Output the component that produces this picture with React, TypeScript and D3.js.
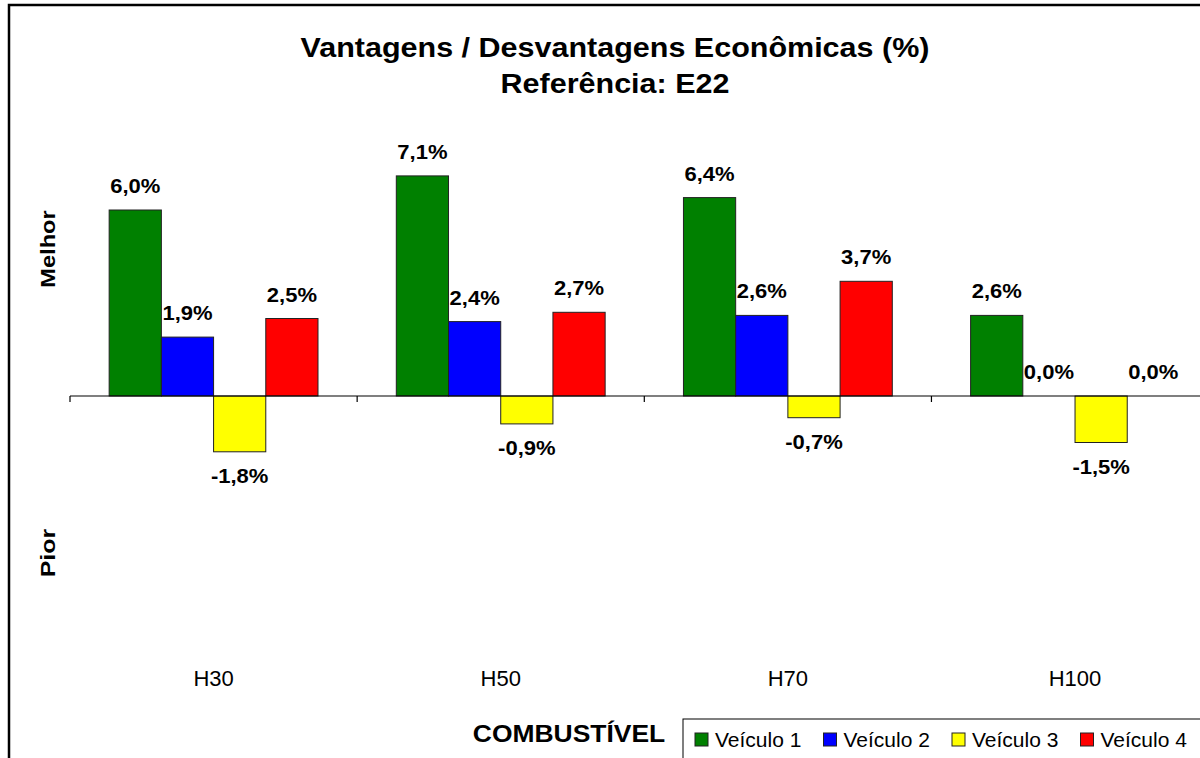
import React from "react";
import * as d3 from "d3";

const categories = ["H30", "H50", "H70", "H100"];
const seriesNames = ["Veículo 1", "Veículo 2", "Veículo 3", "Veículo 4"];
const seriesColors = ["#008000", "#0000ff", "#ffff00", "#ff0000"];
const veiculo1 = [6.0, 7.1, 6.4, 2.6];
const veiculo2 = [1.9, 2.4, 2.6, 0.0];
const veiculo3 = [-1.8, -0.9, -0.7, -1.5];
const veiculo4 = [2.5, 2.7, 3.7, 0.0];
const seriesValues = [veiculo1, veiculo2, veiculo3, veiculo4];

const FONT = "'Liberation Sans', Arial, sans-serif";

// texto alargado na horizontal (a fonte do Excel sai mais larga)
function WideText({ x, y, sx = 1, rotate = 0, children, ...rest }: any) {
  return (
    <text
      transform={`translate(${x},${y}) rotate(${rotate}) scale(${sx},1)`}
      textAnchor="middle"
      {...rest}
    >
      {children}
    </text>
  );
}

export default function App() {
  const width = 1200;
  const height = 758;

  // eixo de categorias: cada grupo ~287px
  const band = 287.15;
  const x0 = d3
    .scaleBand()
    .domain(categories)
    .range([70, 70 + band * categories.length])
    .padding(0);
  const barW = x0.bandwidth() / 5.5;
  const x1 = d3
    .scaleBand()
    .domain(seriesNames)
    .range([barW * 0.75, barW * 4.75])
    .padding(0);

  const y = d3.scaleLinear().domain([-8, 8]).range([644, 148]);
  const zero = y(0);

  const fmt = (v: number) => v.toFixed(1).replace(".", ",") + "%";

  const ticks = categories.map((c) => x0(c) as number);

  return (
    <div style={{ position: "absolute", left: 0, top: 0 }}>
      <svg width={width} height={height} style={{ display: "block", fontFamily: FONT }}>
        <rect x={0} y={0} width={width} height={height} fill="#fff" />
        {/* borda do gráfico */}
        <rect x={9} y={5} width={1300} height={900} fill="none" stroke="#000" strokeWidth={2.5} />

        {/* título */}
        <WideText x={615} y={57} sx={1.09} fontSize={28} fontWeight="bold">
          Vantagens / Desvantagens Econômicas (%)
        </WideText>
        <WideText x={615} y={93} sx={1.09} fontSize={28} fontWeight="bold">
          Referência: E22
        </WideText>

        {/* barras */}
        {seriesValues.map((vals, si) =>
          vals.map((v, ci) => {
            const bx = (x0(categories[ci]) as number) + (x1(seriesNames[si]) as number);
            const top = Math.min(y(v), zero);
            const h = Math.abs(y(v) - zero);
            return (
              <g key={`${si}-${ci}`}>
                {h > 0 && (
                  <rect
                    x={bx}
                    y={top}
                    width={x1.bandwidth()}
                    height={h}
                    fill={seriesColors[si]}
                    stroke="#222"
                    strokeWidth={1}
                  />
                )}
                <WideText
                  x={bx + x1.bandwidth() / 2}
                  y={v < 0 ? y(v) + 31 : y(v) - 17}
                  sx={1.1}
                  fontSize={20}
                  fontWeight="bold"
                >
                  {fmt(v)}
                </WideText>
              </g>
            );
          })
        )}

        {/* eixo zero */}
        <line x1={70} x2={1200} y1={zero} y2={zero} stroke="#000" strokeWidth={1.2} />
        {ticks.map((t, i) => (
          <line key={i} x1={t} x2={t} y1={zero} y2={zero + 6} stroke="#000" strokeWidth={1.2} />
        ))}

        {/* rótulos de categoria */}
        {categories.map((c) => (
          <text
            key={c}
            x={(x0(c) as number) + x0.bandwidth() / 2}
            y={686}
            textAnchor="middle"
            fontSize={22}
          >
            {c}
          </text>
        ))}

        {/* rótulos do eixo y */}
        <WideText x={55} y={249} rotate={-90} sx={1.18} fontSize={20} fontWeight="bold">
          Melhor
        </WideText>
        <WideText x={55} y={553} rotate={-90} sx={1.25} fontSize={20} fontWeight="bold">
          Pior
        </WideText>

        <WideText x={569} y={742} sx={1.15} fontSize={23} fontWeight="bold">
          COMBUSTÍVEL
        </WideText>

        {/* legenda */}
        <rect x={683} y={719} width={600} height={80} fill="#fff" stroke="#000" strokeWidth={1} />
        {seriesNames.map((s, i) => (
          <g key={s} transform={`translate(${695 + i * 128.5},733)`}>
            <rect x={0} y={0} width={13} height={13} fill={seriesColors[i]} stroke="#222" strokeWidth={1} />
            <text x={20} y={14} fontSize={21}>
              {s}
            </text>
          </g>
        ))}
      </svg>
    </div>
  );
}
